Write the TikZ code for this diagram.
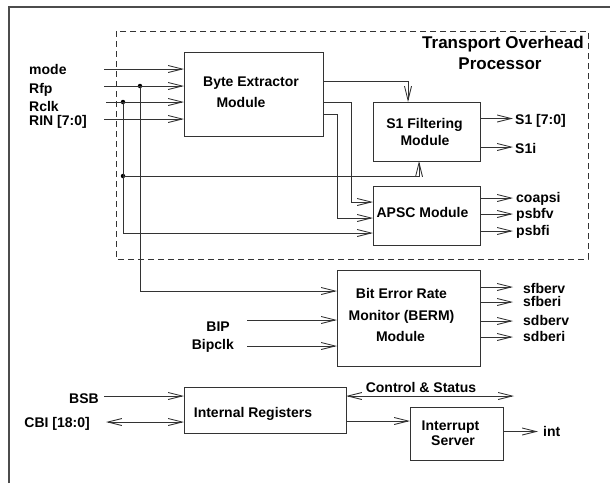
\documentclass[tikz,border=0pt]{standalone}
\usepackage{fontspec}
\setmainfont{Liberation Sans}
\usetikzlibrary{arrows.meta}
\tikzset{
  ln/.style={line width=0.9pt, draw=black!80},
  arr/.style={ln, -{Straight Barb[length=14pt,width=7pt,line width=0.9pt]}},
  darr/.style={ln, {Straight Barb[length=14pt,width=7pt,line width=0.9pt]}-{Straight Barb[length=14pt,width=7pt,line width=0.9pt]}},
  box/.style={draw=black!80, line width=0.9pt, rectangle, inner sep=0pt, outer sep=0pt},
  txt/.style={font=\bfseries\fontsize{14}{16}\selectfont, inner sep=0pt, anchor=base},
  lw/.style={txt, anchor=base west},
  le/.style={txt, anchor=base east},
  ttl/.style={font=\bfseries\fontsize{17}{20}\selectfont, inner sep=0pt, anchor=base},
  dot/.style={circle, fill=black, inner sep=0pt, minimum size=4.5pt},
}
\begin{document}
\begin{tikzpicture}[x=1pt,y=-1pt]
\useasboundingbox (0,0) rectangle (610,483);
\fill[white] (0,0) rectangle (610,483);
% outer frame (only left and top visible)
\draw[line width=1.5pt, draw=black!70] (9,483) -- (9,7) -- (610,7);
% dashed processor boundary
\draw[line width=0.9pt, draw=black!80, dash pattern=on 6pt off 4pt] (116,31) rectangle (588,259);
\node[ttl] (ttl1) at (503,48) {Transport Overhead};
\node[ttl] (ttl2) at (500,69) {Processor};

% boxes
\node[box, minimum width=139pt, minimum height=84pt] (BE) at (253.5,94) {};
\node[box, minimum width=107pt, minimum height=59pt] (S1) at (426.5,131.5) {};
\node[box, minimum width=107pt, minimum height=59pt] (APSC) at (426.5,215.5) {};
\node[box, minimum width=143pt, minimum height=96pt] (BERM) at (408.5,318) {};
\node[box, minimum width=162pt, minimum height=46pt] (IR) at (265,410) {};
\node[box, minimum width=93pt, minimum height=53pt] (IS) at (456.5,433.5) {};

% box texts
\node[txt] (tBE1) at (251,86) {Byte Extractor};
\node[txt] (tBE2) at (241,107) {Module};
\node[txt] (tS11) at (424.5,128) {S1 Filtering};
\node[txt] (tS12) at (425,145) {Module};
\node[txt] (tAP) at (422.5,217) {APSC Module};
\node[txt] (tBR1) at (401.5,298) {Bit Error Rate};
\node[txt] (tBR2) at (401.5,320) {Monitor (BERM)};
\node[txt] (tBR3) at (400.5,341) {Module};
\node[txt] (tIR) at (253,417) {Internal Registers};
\node[txt] (tIS1) at (450.5,430) {Interrupt};
\node[txt] (tIS2) at (453,445) {Server};

% input labels
\node[lw] (lmode) at (29,74) {mode};
\node[lw] (lrfp) at (29,93) {Rfp};
\node[lw] (lrclk) at (29,111.5) {Rclk};
\node[lw] (lrin) at (29,125.5) {RIN [7:0]};
\node[le] (lbip) at (230,331) {BIP};
\node[le] (lbipclk) at (234,349) {Bipclk};
\node[le] (lbsb) at (99,403) {BSB};
\node[le] (lcbi) at (90,427) {CBI [18:0]};

% output labels
\node[lw] (ls1) at (515,124) {S1 [7:0]};
\node[lw] (ls1i) at (515,153) {S1i};
\node[lw] (lco) at (516,202) {coapsi};
\node[lw] (lpv) at (516,218) {psbfv};
\node[lw] (lpi) at (516,235) {psbfi};
\node[lw] (lsfv) at (523,293) {sfberv};
\node[lw] (lsfi) at (523,306) {sfberi};
\node[lw] (lsdv) at (523,325) {sdberv};
\node[lw] (lsdi) at (523,341) {sdberi};
\node[txt] (lcs) at (421,392) {Control \& Status};
\node[lw] (lint) at (543,436) {int};

% input coordinates
\coordinate (imode) at (104,69);
\coordinate (irfp) at (104,86);
\coordinate (irclk) at (106,102);
\coordinate (irin) at (104,119);
\coordinate (ibip) at (247,320);
\coordinate (ibipclk) at (247,346);
\coordinate (ibsb) at (104,396);
\coordinate (icbi) at (106,422);

% junction dots
\node[dot] (jrfp) at (140,86) {};
\node[dot] (jclk) at (123,102) {};
\node[dot] (jclk2) at (123,176) {};

% inputs to Byte Extractor
\draw[arr] (imode) -- (imode -| BE.west);
\draw[arr] (irfp) -- (irfp -| BE.west);
\draw[arr] (irclk) -- (irclk -| BE.west);
\draw[arr] (irin) -- (irin -| BE.west);

% branches
\draw[arr] (jrfp.center) |- ([yshift=27pt]BERM.west);
\draw[arr] (jclk.center) |- ([yshift=-17.5pt]APSC.west);
\draw[arr] (jclk2.center) -| ([xshift=-7.5pt]S1.south);

% Byte Extractor outputs
\draw[arr] ([yshift=13pt]BE.east) -| ([xshift=-18.5pt]S1.north);
\draw[arr] ([yshift=-8pt]BE.east) -- ++(28,0) |- ([yshift=13.5pt]APSC.west);
\draw[arr] ([yshift=-20pt]BE.east) -- ++(14,0) |- ([yshift=-2.5pt]APSC.west);

% S1 outputs
\draw[arr] ([yshift=13pt]S1.east) -- ++(33,0);
\draw[arr] ([yshift=-15.5pt]S1.east) -- ++(33,0);

% APSC outputs
\draw[arr] ([yshift=17.5pt]APSC.east) -- ++(33,0);
\draw[arr] ([yshift=1.5pt]APSC.east) -- ++(33,0);
\draw[arr] ([yshift=-15.5pt]APSC.east) -- ++(33,0);

% BERM inputs / outputs
\draw[arr] (ibip) -- (ibip -| BERM.west);
\draw[arr] (ibipclk) -- (ibipclk -| BERM.west);
\draw[arr] ([yshift=31pt]BERM.east) -- ++(33,0);
\draw[arr] ([yshift=16pt]BERM.east) -- ++(33,0);
\draw[arr] ([yshift=-3pt]BERM.east) -- ++(33,0);
\draw[arr] ([yshift=-19pt]BERM.east) -- ++(33,0);

% registers
\draw[arr] (ibsb) -- (ibsb -| IR.west);
\draw[darr] (icbi) -- (icbi -| IR.west);
\draw[darr] ([yshift=14pt]IR.east) -- ++(168,0);
\coordinate (irout) at ([yshift=-11pt]IR.east);
\draw[arr] (irout) -- (irout -| IS.west);
\draw[arr] ([yshift=2pt]IS.east) -- ++(35,0);
\end{tikzpicture}
\end{document}
